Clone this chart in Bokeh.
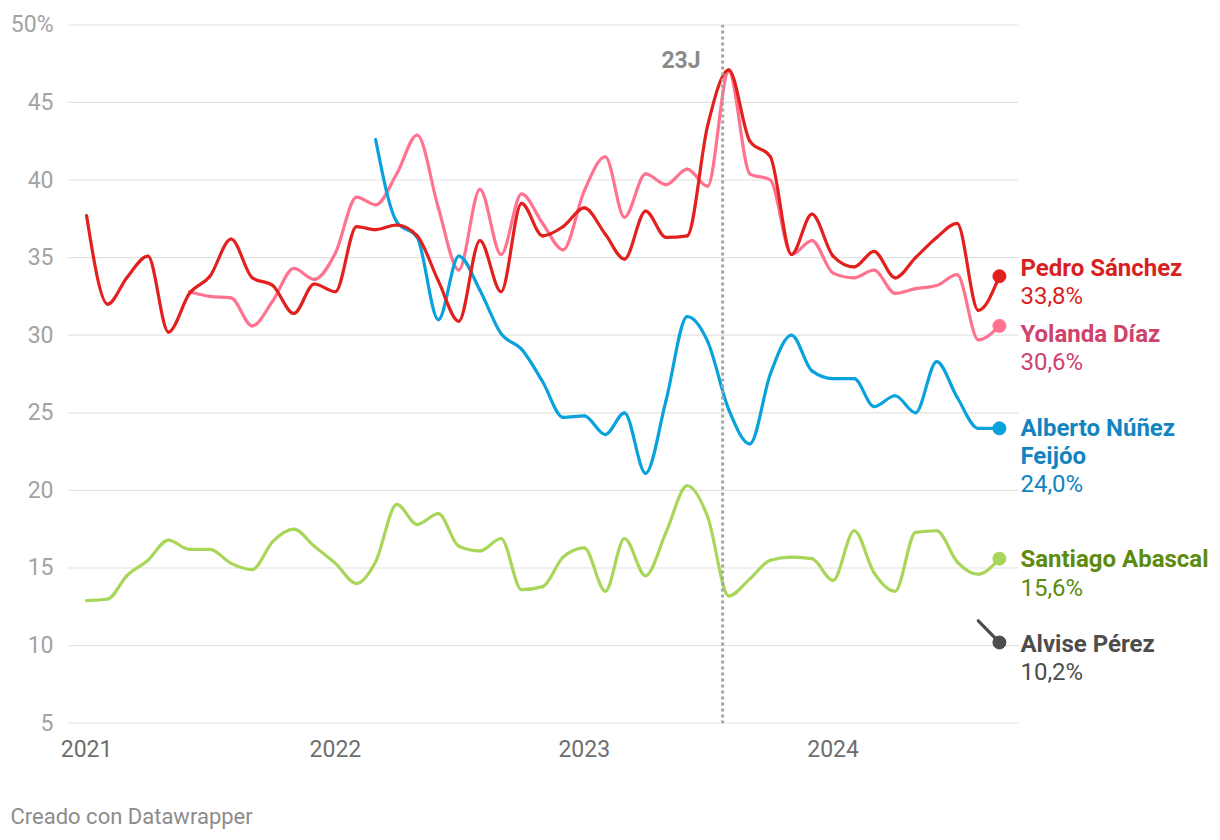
import numpy as np
import pandas as pd
from bokeh.plotting import figure
from bokeh.models import FixedTicker, Span, Label, DatetimeTickFormatter, Title
from bokeh.embed import file_html
from bokeh.resources import INLINE

# ---------------- data (monthly, first day of month) ----------------
months = pd.date_range("2021-01-01", "2024-09-01", freq="MS")  # 45 months

sanchez = [37.7, 32.0, 33.7, 35.1, 30.2, 32.7, 33.8, 36.2, 33.7, 33.2, 31.4, 33.3,
           32.8, 37.0, 36.8, 37.1, 36.4, 33.5, 30.9, 36.1, 32.8, 38.5, 36.4, 37.0,
           38.2, 36.5, 34.9, 38.0, 36.3, 36.4, 43.5, 47.1, 42.5, 41.5, 35.2, 37.8,
           35.1, 34.4, 35.4, 33.7, 35.0, 36.3, 37.2, 31.6, 33.8]

diaz_start = 5   # June 2021
diaz = [32.8, 32.5, 32.4, 30.6, 32.2, 34.3, 33.6,
        35.3, 38.9, 38.4, 40.4, 42.9, 38.2, 34.2, 39.4, 35.2, 39.1, 37.2, 35.5,
        39.3, 41.5, 37.6, 40.4, 39.7, 40.7, 39.6, 47.0, 40.4, 40.0, 35.2, 36.1,
        34.0, 33.7, 34.2, 32.7, 33.0, 33.2, 33.9, 29.7, 30.6]

feijoo_start = 14  # March 2022
feijoo = [42.6, 37.3, 36.3, 31.0, 35.1, 32.9, 30.1, 29.1, 27.0, 24.7,
          24.8, 23.6, 25.0, 21.1, 25.8, 31.2, 29.6, 25.2, 23.0, 27.5, 30.0, 27.7,
          27.2, 27.2, 25.4, 26.1, 25.0, 28.3, 26.0, 24.0, 24.0]

abascal = [12.9, 13.0, 14.5, 15.5, 16.8, 16.2, 16.2, 15.3, 14.9, 16.7, 17.5, 16.4,
           15.3, 14.0, 15.4, 19.1, 17.8, 18.5, 16.4, 16.1, 16.9, 13.6, 13.8, 15.7,
           16.3, 13.5, 16.9, 14.5, 17.3, 20.3, 18.3, 13.2, 14.3, 15.5, 15.7, 15.6,
           14.2, 17.4, 14.7, 13.5, 17.3, 17.4, 15.4, 14.6, 15.6]

alvise_start = 43  # August 2024
alvise = [11.6, 10.2]

name_lines = [["Pedro Sánchez"], ["Yolanda Díaz"], ["Alberto Núñez", "Feijóo"],
              ["Santiago Abascal"], ["Alvise Pérez"]]
last_values = ["33,8%", "30,6%", "24,0%", "15,6%", "10,2%"]
line_colors = ["#e2211f", "#ff7391", "#0aa2dc", "#a8d659", "#4d4d4d"]
text_colors = ["#d81f21", "#cf426c", "#1285c0", "#5c8b0d", "#4d4d4d"]

event_date = "2023-07-23"
event_label = "23J"
year_ticks = ["2021-01-01", "2022-01-01", "2023-01-01", "2024-01-01"]
y_ticks = [5, 10, 15, 20, 25, 30, 35, 40, 45, 50]

# axis domain (grid area) and layout
x_start, x_grid_end = "2020-12-04", "2024-09-29"
GRID_PX = 951          # width of the gridded area in px
FRAME_PX = 1145        # frame also holds the end labels
LEFT, TOP, FRAME_H = 67, 24, 699
FIG_W, FIG_H = LEFT + FRAME_PX, 834

FONT = "Roboto"


def ms(d):
    return pd.Timestamp(d).value / 1e6


xs_all = np.array([ms(d) for d in months])
x0_ms, xg_ms = ms(x_start), ms(x_grid_end)
x_end_ms = x0_ms + (xg_ms - x0_ms) * FRAME_PX / GRID_PX


def monotone_segments(xs, ys):
    """Control points of a monotone-X cubic curve (as d3.curveMonotoneX)."""
    xs = np.asarray(xs, float)
    ys = np.asarray(ys, float)
    n = len(xs)
    if n == 2:
        t = np.array([(ys[1] - ys[0]) / (xs[1] - xs[0])] * 2)
    else:
        t = np.zeros(n)
        for i in range(1, n - 1):
            h0 = xs[i] - xs[i - 1]
            h1 = xs[i + 1] - xs[i]
            s0 = (ys[i] - ys[i - 1]) / h0
            s1 = (ys[i + 1] - ys[i]) / h1
            pp = (s0 * h1 + s1 * h0) / (h0 + h1)
            sg = (-1 if s0 < 0 else 1) + (-1 if s1 < 0 else 1)
            t[i] = sg * min(abs(s0), abs(s1), 0.5 * abs(pp))
        t[0] = (3 * (ys[1] - ys[0]) / (xs[1] - xs[0]) - t[1]) / 2
        t[-1] = (3 * (ys[-1] - ys[-2]) / (xs[-1] - xs[-2]) - t[-2]) / 2
    dx = (xs[1:] - xs[:-1]) / 3
    return dict(x0=xs[:-1], y0=ys[:-1], x1=xs[1:], y1=ys[1:],
                cx0=xs[:-1] + dx, cy0=ys[:-1] + dx * t[:-1],
                cx1=xs[1:] - dx, cy1=ys[1:] - dx * t[1:])


p = figure(width=FIG_W, height=FIG_H, x_axis_type="datetime",
           x_range=(x0_ms, x_end_ms), y_range=(4.98, 50.02),
           output_backend="svg", toolbar_location=None,
           min_border_left=LEFT, min_border_right=0, min_border_top=TOP,
           min_border_bottom=FIG_H - TOP - FRAME_H)
p.outline_line_color = None
p.background_fill_color = "white"
p.border_fill_color = "white"

# horizontal gridlines only over the data area
p.xgrid.visible = False
p.ygrid.visible = False
p.segment(x0=[x0_ms] * len(y_ticks), x1=[xg_ms] * len(y_ticks), y0=y_ticks, y1=y_ticks,
          line_color="#e2e2e2", line_width=1.2)

p.yaxis.ticker = FixedTicker(ticks=y_ticks)
p.yaxis.major_label_overrides = {50: "50%"}
p.xaxis.ticker = FixedTicker(ticks=[ms(d) for d in year_ticks])
p.xaxis.formatter = DatetimeTickFormatter(years="%Y", months="%Y", days="%Y", hours="%Y")
for ax in (p.xaxis, p.yaxis):
    ax.axis_line_color = None
    ax.major_tick_line_color = None
    ax.minor_tick_line_color = None
    ax.major_tick_out = 0
    ax.major_tick_in = 0
    ax.major_label_text_font = FONT
    ax.major_label_text_font_size = "23px"
p.yaxis.major_label_text_color = "#a3a3a3"
p.yaxis.major_label_standoff = 14
p.xaxis.major_label_text_color = "#6e6e6e"
p.xaxis.major_label_standoff = 16

# event line
p.add_layout(Span(location=ms(event_date), dimension="height", line_color="#a3a3a3",
                  line_width=3, line_dash="3 3"))
p.add_layout(Label(x=ms(event_date), y=47.7, x_offset=-22, text=event_label,
                   text_align="right", text_baseline="middle", text_font=FONT,
                   text_font_size="23px", text_font_style="bold", text_color="#8a8a8a"))

series = [
    (abascal, 0, 3),
    (alvise, alvise_start, 4),
    (diaz, diaz_start, 1),
    (feijoo, feijoo_start, 2),
    (sanchez, 0, 0),
]
for vals, start, ci in series:
    xs = xs_all[start:start + len(vals)]
    seg = monotone_segments(xs, vals)
    p.bezier(**seg, line_color=line_colors[ci], line_width=3.2, line_cap="round")
    p.scatter([xs[-1]], [vals[-1]], size=13, color=line_colors[ci])

# end labels: (name line offsets, value offset) in px relative to the last point
label_offsets = [
    ([8], -20),
    ([-8], -36),
    ([0, -28], -56),
    ([0], -29),
    ([-2], -30),
]
ends = [(sanchez, 0), (diaz, diaz_start), (feijoo, feijoo_start), (abascal, 0), (alvise, alvise_start)]
for i, (vals, start) in enumerate(ends):
    xl = xs_all[start + len(vals) - 1]
    yl = vals[-1]
    offs, voff = label_offsets[i]
    for line, off in zip(name_lines[i], offs):
        p.add_layout(Label(x=xl, y=yl, x_offset=21, y_offset=off, text=line,
                           text_align="left", text_baseline="middle", text_font=FONT,
                           text_font_size="24px", text_font_style="bold",
                           text_color=text_colors[i]))
    p.add_layout(Label(x=xl, y=yl, x_offset=21, y_offset=voff, text=last_values[i],
                       text_align="left", text_baseline="middle", text_font=FONT,
                       text_font_size="24px", text_color=text_colors[i]))

# spacer between the axis and the footer, then the footer
p.add_layout(Title(text=" ", standoff=16, text_font=FONT, text_font_size="20px"), "below")
p.add_layout(Title(text="Creado con Datawrapper", align="left", offset=-57, standoff=0,
                   text_font=FONT, text_font_size="22px", text_font_style="normal",
                   text_color="#8c8c8c"), "below")

open("out.html", "w").write(file_html(p, INLINE))
